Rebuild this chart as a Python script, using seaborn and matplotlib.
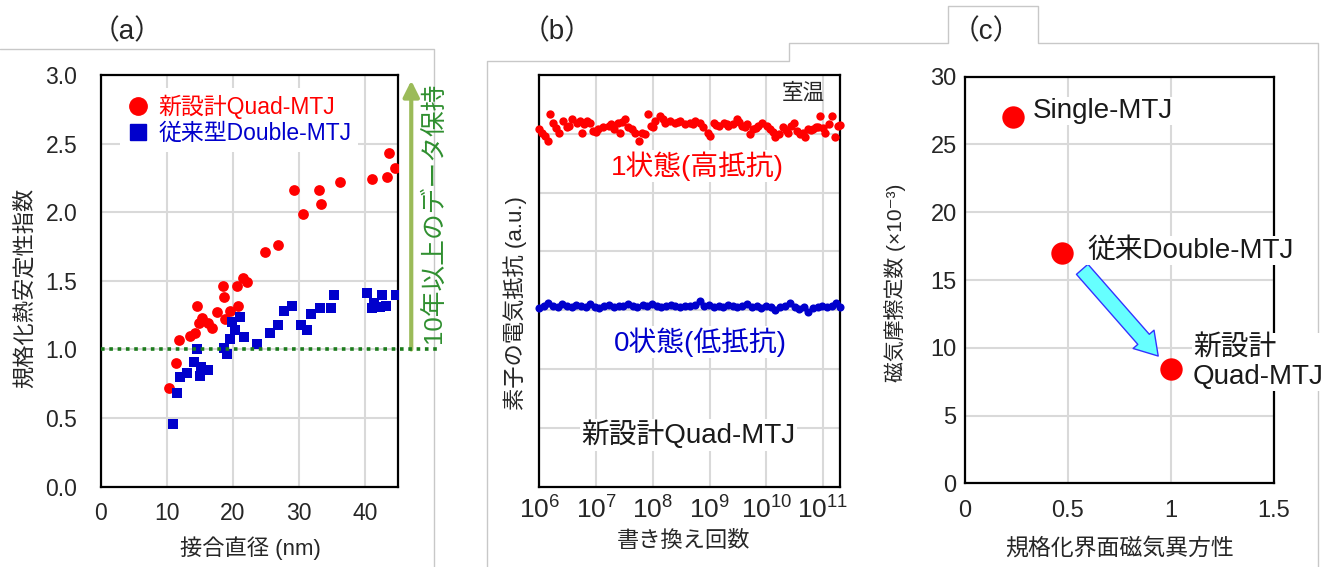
import numpy as np
import matplotlib
matplotlib.use("Agg")
import matplotlib.pyplot as plt
import seaborn as sns

sns.set_style("whitegrid", {"grid.color": "#D9D9D9", "axes.edgecolor": "black"})
plt.rcParams['font.family'] = ['Liberation Sans', 'Noto Sans CJK JP', 'DejaVu Sans']
plt.rcParams['mathtext.fontset'] = 'custom'
plt.rcParams['mathtext.rm'] = 'Liberation Sans'

### (a) thermal stability vs junction diameter
quad_d = [10.4, 11.4, 11.9, 13.5, 14.3, 14.6, 14.9, 15.3, 16.3, 16.8, 17.6, 18.5, 18.7, 18.8,
          19.5, 20.7, 20.8, 21.6, 22.2, 24.9, 26.9, 29.3, 30.6, 33.0, 33.3, 36.2, 41.0, 43.3,
          43.7, 44.6]
quad_s = [0.72, 0.90, 1.07, 1.10, 1.12, 1.32, 1.19, 1.23, 1.19, 1.16, 1.27, 1.46, 1.38, 1.22,
          1.28, 1.46, 1.32, 1.52, 1.49, 1.71, 1.76, 2.16, 1.99, 2.16, 2.06, 2.22, 2.24, 2.26,
          2.43, 2.32]
dbl_d = [10.9, 11.5, 12.0, 13.0, 14.5, 14.1, 15.0, 16.2, 15.2, 18.6, 19.1, 19.5, 19.8, 21.1,
         20.3, 21.7, 23.6, 25.6, 26.9, 27.7, 28.9, 30.3, 31.2, 31.8, 33.2, 34.8, 35.3, 40.3,
         41.1, 42.6, 43.2, 42.3, 44.7, 41.3]
dbl_s = [0.46, 0.68, 0.80, 0.83, 1.00, 0.91, 0.81, 0.85, 0.87, 1.01, 0.97, 1.08, 1.20, 1.24,
         1.14, 1.09, 1.04, 1.12, 1.18, 1.28, 1.32, 1.18, 1.14, 1.26, 1.30, 1.30, 1.40, 1.41,
         1.30, 1.40, 1.32, 1.31, 1.40, 1.34]

### (b) resistance vs write cycles (exponent of 10)
high_exp = [6.00, 6.05, 6.10, 6.16, 6.18, 6.25, 6.30, 6.34, 6.42, 6.48, 6.53, 6.57, 6.66, 6.72,
            6.75, 6.79, 6.84, 6.89, 6.95, 7.00, 7.04, 7.13, 7.22, 7.26, 7.31, 7.39, 7.42, 7.46,
            7.51, 7.57, 7.63, 7.69, 7.75, 7.81, 7.86, 7.92, 7.97, 8.01, 8.04, 8.13, 8.18, 8.22,
            8.31, 8.39, 8.44, 8.48, 8.57, 8.66, 8.71, 8.75, 8.83, 8.89, 8.98, 9.01, 9.07, 9.11,
            9.16, 9.25, 9.30, 9.33, 9.42, 9.48, 9.52, 9.57, 9.62, 9.66, 9.72, 9.77, 9.82, 9.86,
            9.92, 10.01, 10.07, 10.11, 10.16, 10.22, 10.30, 10.35, 10.39, 10.44, 10.48, 10.54,
            10.60, 10.64, 10.69, 10.74, 10.79, 10.83, 10.88, 10.92, 10.95, 11.00, 11.04, 11.10,
            11.16, 11.21, 11.27, 11.30]
high_r = [6.08, 6.02, 5.96, 5.88, 6.33, 6.19, 6.10, 6.02, 6.22, 6.11, 6.14, 6.25, 6.19, 6.22,
          6.02, 6.16, 6.22, 6.19, 6.05, 6.04, 6.08, 6.11, 6.13, 6.16, 6.08, 6.19, 6.02, 6.20,
          6.25, 6.11, 6.08, 6.02, 5.88, 6.02, 5.99, 6.33, 6.13, 6.11, 6.22, 6.30, 6.26, 6.19,
          6.22, 6.19, 6.20, 6.22, 6.16, 6.19, 6.17, 6.22, 6.19, 6.11, 6.02, 5.96, 6.19, 6.15,
          6.13, 6.19, 6.17, 6.13, 6.16, 6.25, 6.20, 6.13, 6.12, 6.16, 5.99, 6.08, 6.10, 6.13,
          6.19, 6.13, 6.08, 6.03, 5.94, 5.99, 6.11, 6.07, 6.02, 6.14, 6.19, 6.05,
          5.99, 6.02, 5.94, 6.08, 6.06, 6.08, 6.12, 6.11, 6.30, 6.10, 6.02, 6.16,
          6.30, 5.94, 6.13, 6.15]
low_exp = [6.00, 6.08, 6.16, 6.25, 6.33, 6.40, 6.49, 6.57, 6.65, 6.73, 6.82, 6.90, 6.98, 7.06,
           7.14, 7.23, 7.31, 7.40, 7.48, 7.57, 7.65, 7.73, 7.82, 7.90, 7.98, 8.07, 8.15, 8.23,
           8.32, 8.40, 8.48, 8.57, 8.65, 8.74, 8.83, 8.91, 8.99, 9.08, 9.16, 9.24, 9.33, 9.41,
           9.49, 9.58, 9.66, 9.75, 9.83, 9.91, 10.00, 10.08, 10.16, 10.24, 10.33, 10.41, 10.50,
           10.58, 10.66, 10.74, 10.82, 10.91, 10.99, 11.07, 11.15, 11.22, 11.30]
low_r = [3.04, 3.07, 3.12, 3.08, 3.06, 3.10, 3.07, 3.06, 3.09, 3.08, 3.05, 3.10, 3.06, 3.04,
         3.07, 3.09, 3.06, 3.08, 3.07, 3.10, 3.08, 3.06, 3.09, 3.07, 3.11, 3.08, 3.05, 3.07,
         3.09, 3.08, 3.06, 3.08, 3.07, 3.09, 3.16, 3.07, 3.09, 3.05, 3.08, 3.06, 3.09, 3.07,
         3.05, 3.08, 3.10, 3.06, 3.07, 3.04, 3.07, 3.05, 3.01, 3.06, 3.08, 3.12, 3.06,
         3.03, 3.05, 2.97, 3.04, 3.06, 3.08, 3.05, 3.07, 3.13, 3.05]
b_ticks = [1e6, 1e7, 1e8, 1e9, 1e10, 1e11]
b_tick_labels = [r'$\mathregular{10^{6}}$', r'$\mathregular{10^{7}}$', r'$\mathregular{10^{8}}$',
                 r'$\mathregular{10^{9}}$', r'$\mathregular{10^{10}}$', r'$\mathregular{10^{11}}$']

### (c) damping vs interface anisotropy
mtj_names = ['Single-MTJ', '従来Double-MTJ', '新設計\nQuad-MTJ']
mtj_aniso = [0.235, 0.47, 1.0]
mtj_damp = [27.0, 17.0, 8.45]

RED = '#FF0000'
BLUE = '#0000CC'

fig = plt.figure(figsize=(13.29, 5.67), dpi=100)
axa = fig.add_axes([0.0758, 0.1416, 0.2237, 0.726])
axb = fig.add_axes([0.4058, 0.1416, 0.2263, 0.726])
axc = fig.add_axes([0.7261, 0.1476, 0.2325, 0.7171])

for ax in (axa, axb, axc):
    ax.grid(True, color='#D9D9D9', lw=1.5)
    ax.set_axisbelow(True)
    for sp in ax.spines.values():
        sp.set_color('black')
        sp.set_linewidth(1.6)
    ax.tick_params(length=0)

# ---- (a)
sns.scatterplot(x=quad_d, y=quad_s, ax=axa, color=RED, marker='o', s=60, linewidth=0, legend=False, zorder=3)
sns.scatterplot(x=dbl_d, y=dbl_s, ax=axa, color=BLUE, marker='s', s=62, linewidth=0, legend=False, zorder=3)
axa.set_xlim(0, 45)
axa.set_ylim(0, 3.0)
axa.set_xticks([0, 10, 20, 30, 40])
axa.set_yticks(np.arange(0, 3.01, 0.5))
axa.set_yticklabels(['%.1f' % v for v in np.arange(0, 3.01, 0.5)])
axa.tick_params(axis='y', labelsize=16.5, pad=17)
axa.tick_params(axis='x', labelsize=16.5, pad=11)
axa.set_ylabel('規格化熱安定性指数', fontsize=16, va='center')
axa.yaxis.set_label_coords(-0.255, 0.484)
axa.set_xlabel('接合直径 (nm)', fontsize=16, va='center')
axa.xaxis.set_label_coords(0.502, -0.149)

axa.plot([0, 51.4], [1.0, 1.0], color='#1C7C1C', lw=2.6, ls=(0, (1, 1.3)), clip_on=False, zorder=4)
axa.annotate('', xy=(47.0, 2.96), xytext=(47.0, 1.0), annotation_clip=False,
             arrowprops=dict(arrowstyle='-|>', color='#9BBB59', lw=3, mutation_scale=24,
                             shrinkA=0, shrinkB=0))
axa.text(50.4, 2.0, '10年以上のデータ保持', rotation=90, ha='center', va='center',
         fontsize=18.5, color='#2F8F2F', clip_on=False)

h1 = plt.Line2D([], [], marker='o', color=RED, ls='none', markersize=12.5)
h2 = plt.Line2D([], [], marker='s', color=BLUE, ls='none', markersize=12)
leg = axa.legend([h1, h2], ['新設計Quad-MTJ', '従来型Double-MTJ'], loc='upper left',
                 bbox_to_anchor=(0.065, 0.968), borderaxespad=0, fontsize=16.5,
                 labelcolor=[RED, BLUE], handlelength=1.0, handletextpad=0.36,
                 labelspacing=0.12, borderpad=0.3, frameon=True, fancybox=False,
                 facecolor='white', edgecolor='none', framealpha=1)

# ---- (b)
sns.scatterplot(x=np.power(10.0, high_exp), y=high_r, ax=axb, color=RED, s=36, linewidth=0,
                legend=False, clip_on=False, zorder=3)
sns.scatterplot(x=np.power(10.0, low_exp), y=low_r, ax=axb, color=BLUE, s=34, linewidth=0,
                legend=False, clip_on=False, zorder=3)
axb.set_xscale('log')
axb.set_xlim(1e6, 10 ** 11.3)
axb.set_ylim(0, 7)
axb.set_yticks([1, 2, 3, 4, 5, 6])
axb.set_yticklabels([])
axb.set_xticks(b_ticks)
axb.set_xticklabels(b_tick_labels)
axb.minorticks_off()
axb.tick_params(axis='x', labelsize=19, pad=7)
axb.set_ylabel('素子の電気抵抗 (a.u.)', fontsize=16, va='center')
axb.yaxis.set_label_coords(-0.081, 0.447)
axb.set_xlabel('書き換え回数', fontsize=16, va='center')
axb.xaxis.set_label_coords(0.479, -0.134)
axb.text(0.877, 0.956, '室温', transform=axb.transAxes, ha='center', va='center', fontsize=15.5)
wb = dict(facecolor='white', edgecolor='none', pad=1)
axb.text(0.526, 0.779, '1状態(高抵抗)', transform=axb.transAxes, ha='center', va='center',
         fontsize=20, color=RED, bbox=wb)
axb.text(0.535, 0.352, '0状態(低抵抗)', transform=axb.transAxes, ha='center', va='center',
         fontsize=20, color=BLUE, bbox=wb)
axb.text(0.496, 0.1256, '新設計Quad-MTJ', transform=axb.transAxes, ha='center', va='center',
         fontsize=20, color='#1a1a1a', bbox=wb)

# ---- (c)
sns.scatterplot(x=mtj_aniso, y=mtj_damp, ax=axc, color=RED, s=260, linewidth=0, legend=False, zorder=3)
axc.set_xlim(0, 1.5)
axc.set_ylim(0, 30)
axc.set_xticks([0, 0.5, 1.0, 1.5])
axc.set_xticklabels(['0', '0.5', '1', '1.5'])
axc.set_yticks([0, 5, 10, 15, 20, 25, 30])
axc.tick_params(axis='y', labelsize=17, pad=6)
axc.tick_params(axis='x', labelsize=17, pad=12)
axc.set_ylabel('磁気摩擦定数 (×10⁻³)', fontsize=15, va='center')
axc.yaxis.set_label_coords(-0.227, 0.494)
axc.set_xlabel('規格化界面磁気異方性', fontsize=16.5, va='center')
axc.xaxis.set_label_coords(0.50, -0.16)
label_pos = [(0.329, 27.47), (0.592, 17.16), (1.107, 8.95)]
for name, (lx, ly) in zip(mtj_names, label_pos):
    axc.text(lx, ly, name, ha='left', va='center', fontsize=20, color='#1a1a1a',
             linespacing=1.15, bbox=dict(facecolor='white', edgecolor='none', pad=1), zorder=5)
axc.annotate('', xy=(0.938, 9.39), xytext=(0.569, 15.79),
             arrowprops=dict(arrowstyle='simple,head_width=1.0,head_length=0.8,tail_width=0.55',
                             mutation_scale=20, facecolor='#66FFFF', edgecolor='#3333FF', lw=1,
                             shrinkA=0, shrinkB=0))

# panel labels
for lx, t in [(126.7, '（a）'), (556.7, '（b）'), (986.7, '（c）')]:
    fig.text(lx / 1329, 1 - 31.7 / 567, t, ha='center', va='center', fontsize=20)

# light frame lines from the source layout
W, H = 1329.0, 567.0
frame = [
    [(0, 49.3), (434, 49.3), (434, 567)],
    [(486.7, 567), (486.7, 61), (789.3, 61), (789.3, 43.3), (948, 43.3), (948, 6),
     (1038, 6), (1038, 43.3), (1318, 43.3), (1318, 567)],
]
for seg in frame:
    xs = [p[0] / W for p in seg]
    ys = [1 - p[1] / H for p in seg]
    fig.add_artist(plt.Line2D(xs, ys, color='#C8C8C8', lw=1, transform=fig.transFigure, zorder=0))

fig.savefig('out.png', dpi=100)
